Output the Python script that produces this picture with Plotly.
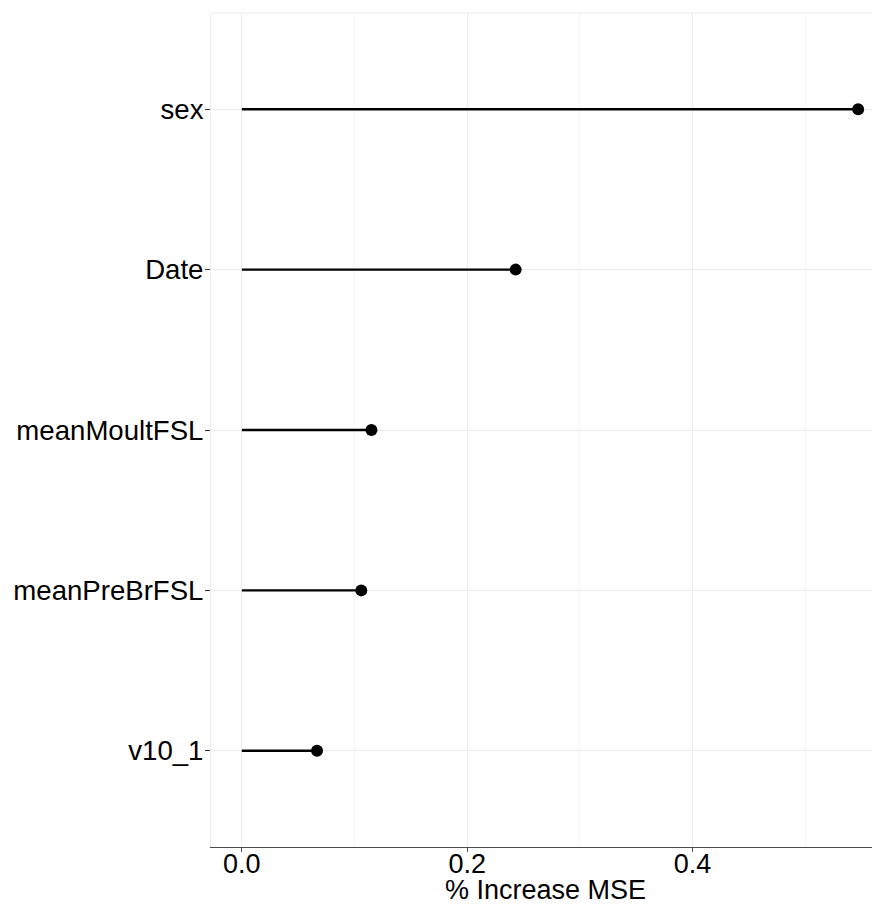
import plotly.graph_objects as go

variables = ["sex", "Date", "meanMoultFSL", "meanPreBrFSL", "v10_1"]
inc_mse = [0.547, 0.243, 0.115, 0.106, 0.0667]
x_ticks = [0.0, 0.2, 0.4]
x_tick_labels = ["0.0", "0.2", "0.4"]
x_title = "% Increase MSE"

order = list(reversed(variables))

stem_x, stem_y = [], []
for v, val in zip(variables, inc_mse):
    stem_x += [0, val, None]
    stem_y += [v, v, None]

fig = go.Figure()
fig.add_trace(go.Scatter(x=stem_x, y=stem_y, mode="lines",
                         line=dict(color="black", width=2.3),
                         hoverinfo="skip", showlegend=False))
fig.add_trace(go.Scatter(x=inc_mse, y=variables, mode="markers",
                         marker=dict(color="black", size=12),
                         showlegend=False))

fig.update_layout(
    width=880, height=906,
    margin=dict(l=201, r=8, t=5, b=67),
    paper_bgcolor="white", plot_bgcolor="white",
    font=dict(family="Liberation Sans, Arial, sans-serif", color="black"),
    xaxis=dict(
        range=[-0.0274, 0.5664],
        tickvals=x_ticks, ticktext=x_tick_labels,
        showgrid=True, gridcolor="#ebebeb", gridwidth=1,
        minor=dict(dtick=0.1, tick0=0, showgrid=True, gridcolor="#f5f5f5", gridwidth=1),
        zeroline=False,
        showline=True, linecolor="#4d4d4d", linewidth=1.2,
        ticks="outside", ticklen=4, tickcolor="#4d4d4d", tickwidth=1,
        ticklabelstandoff=-12,
        tickfont=dict(size=27, color="black"),
    ),
    yaxis=dict(
        type="category", categoryorder="array", categoryarray=order,
        range=[-0.6, 4.6],
        showgrid=True, gridcolor="#ebebeb", gridwidth=1,
        zeroline=False,
        showline=True, linecolor="#ebebeb", linewidth=1,
        ticks="outside", ticklen=5, tickcolor="#333333", tickwidth=1,
        ticklabelstandoff=-4,
        tickfont=dict(size=27.6, color="black"),
    ),
    shapes=[dict(type="line", xref="paper", yref="paper", x0=0, x1=1, y0=1, y1=1,
                 line=dict(color="#ebebeb", width=1))],
    annotations=[dict(text=x_title, xref="paper", yref="paper", x=0.5, y=-0.051,
                      xanchor="center", yanchor="middle", showarrow=False,
                      font=dict(size=27, color="black"))],
)

fig.write_html("out.html")
